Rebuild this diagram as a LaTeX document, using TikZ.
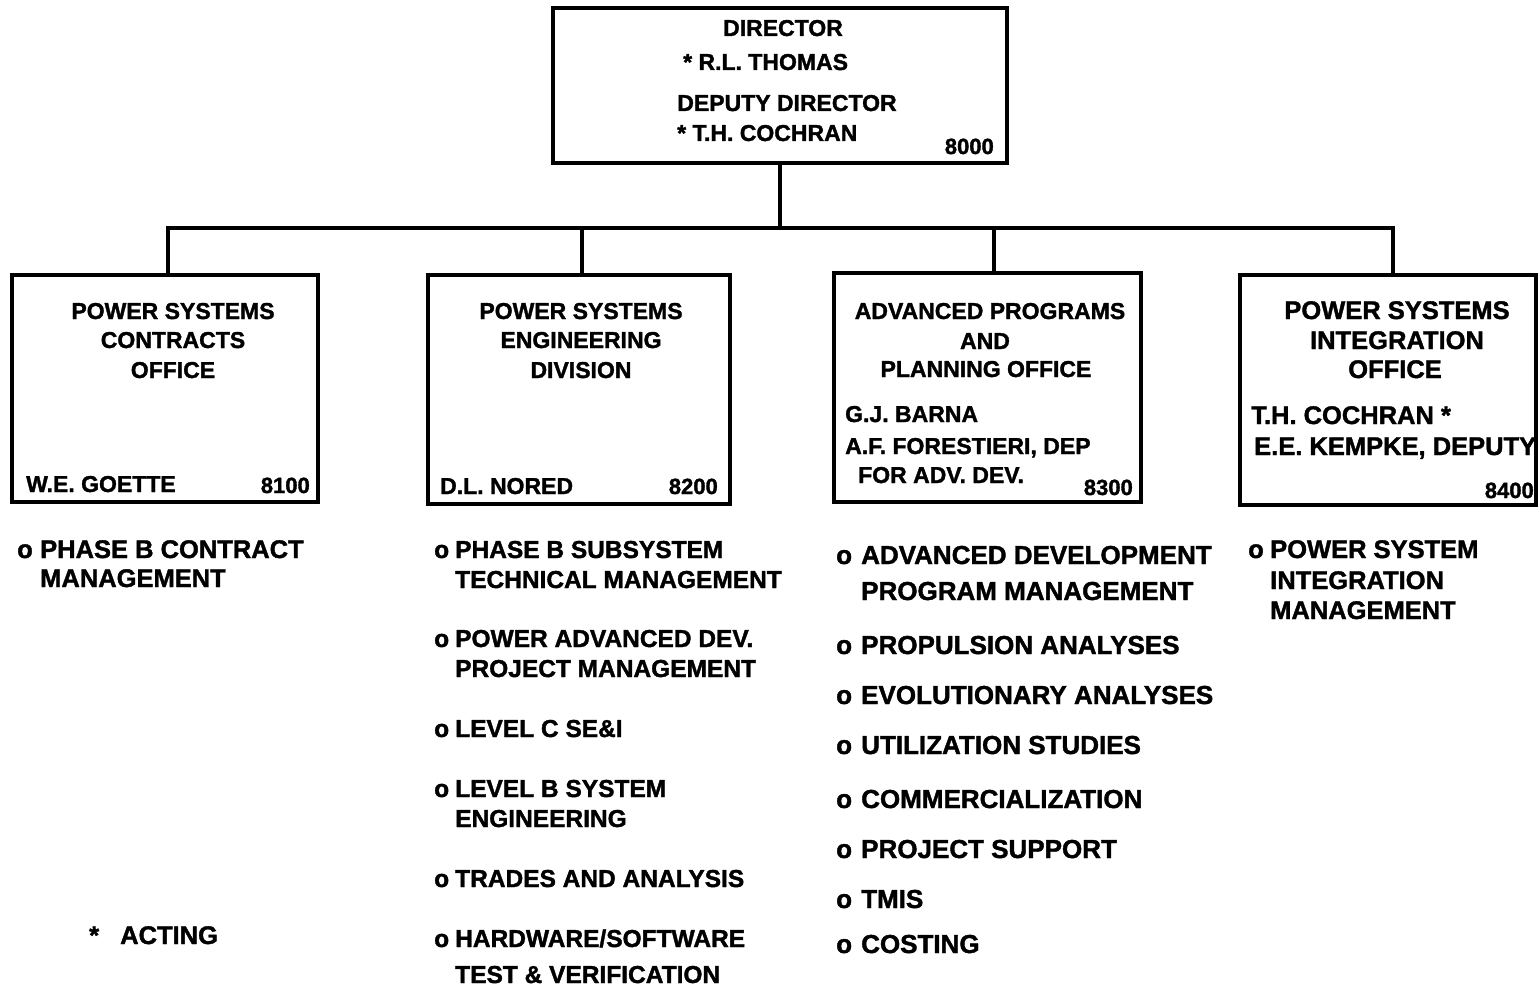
\documentclass[tikz,border=0pt]{standalone}
\usepackage{fontspec}
\setmainfont{Liberation Sans}[BoldFeatures={FakeBold=1.5}]
\newcommand\fsz[1]{\fontsize{#1}{#1}\selectfont\bfseries}
\begin{document}
\begin{tikzpicture}[x=1pt,y=-1pt,
  box/.style={draw=black, line width=4pt, inner sep=0pt, fill=white},
  lnk/.style={draw=black, line width=4pt},
  lt/.style={inner sep=0pt, anchor=base west},
  ct/.style={inner sep=0pt, anchor=base},
  rt/.style={inner sep=0pt, anchor=base east},
  fa/.style={font=\fsz{23}},
  fb/.style={font=\fsz{25.5}},
  fc/.style={font=\fsz{24.5}},
  fd/.style={font=\fsz{26}},
  fn/.style={font=\fsz{22}}]
\useasboundingbox (0,0) rectangle (1540,987);
\fill[white] (0,0) rectangle (1540,987);

% boxes
\node[box, minimum width=454pt, minimum height=155pt] (dir) at (780,85.5) {};
\node[box, minimum width=306pt, minimum height=227pt] (b1) at (165,388.5) {};
\node[box, minimum width=302pt, minimum height=229pt] (b2) at (579,389.5) {};
\node[box, minimum width=307pt, minimum height=229pt] (b3) at (987.5,387.5) {};
\node[box, minimum width=296pt, minimum height=230pt] (b4) at (1388,390) {};

% connectors
\coordinate (j1) at (168,228);
\coordinate (j2) at (582,228);
\coordinate (j3) at (994,228);
\coordinate (j4) at (1393,228);
\draw[lnk] (dir.south) -- (dir.south |- j1);
\draw[lnk, line cap=rect] (j1) -- (j4);
\draw[lnk] (j1) -- (j1 |- b1.north);
\draw[lnk] (j2) -- (j2 |- b2.north);
\draw[lnk] (j3) -- (j3 |- b3.north);
\draw[lnk] (j4) -- (j4 |- b4.north);

% director text
\node[ct, fa] (d1) at (783,36) {DIRECTOR};
\node[lt, fa] (d2) at (683,70) {* R.L. THOMAS};
\node[ct, fa] (d3) at (787,111) {DEPUTY DIRECTOR};
\node[lt, fa] (d4) at (677,141) {* T.H. COCHRAN};
\node[rt, fn] (d5) at (994,154) {8000};

% box 1
\node[ct, fa] (a1) at (173,319) {POWER SYSTEMS};
\node[ct, fa] (a2) at (173,348) {CONTRACTS};
\node[ct, fa] (a3) at (173,378) {OFFICE};
\node[lt, fa] (a4) at (26,492) {W.E. GOETTE};
\node[rt, fn] (a5) at (310,493) {8100};

% box 2
\node[ct, fa] (e1) at (581,319) {POWER SYSTEMS};
\node[ct, fa] (e2) at (581,348) {ENGINEERING};
\node[ct, fa] (e3) at (581,378) {DIVISION};
\node[lt, fa] (e4) at (440,494) {D.L. NORED};
\node[rt, fn] (e5) at (718,494) {8200};

% box 3
\node[ct, fa] (p1) at (990,319) {ADVANCED PROGRAMS};
\node[ct, fa] (p2) at (985,349) {AND};
\node[ct, fa] (p3) at (986,377) {PLANNING OFFICE};
\node[lt, fa] (p4) at (845,422) {G.J. BARNA};
\node[lt, fa] (p5) at (845,454) {A.F. FORESTIERI, DEP};
\node[lt, fa] (p6) at (858,483) {FOR ADV. DEV.};
\node[rt, fn] (p7) at (1133,495) {8300};

% box 4
\node[ct, fb] (i1) at (1397,319) {POWER SYSTEMS};
\node[ct, fb] (i2) at (1397,349) {INTEGRATION};
\node[ct, fb] (i3) at (1395,378) {OFFICE};
\node[lt, fb] (i4) at (1251,424) {T.H. COCHRAN *};
\node[lt, fb] (i5) at (1254,455) {E.E. KEMPKE, DEPUTY};
\node[rt, fn] (i6) at (1534,498) {8400};

% column 1 list
\node[lt, fb] (c1o1) at (17,558) {o};
\node[lt, fb] (c1a) at (40,558) {PHASE B CONTRACT};
\node[lt, fb] (c1b) at (40,587) {MANAGEMENT};
\node[lt, fb] (ast) at (89,944) {*};
\node[lt, fb] (act) at (120,944) {ACTING};

% column 2 list
\node[lt, fc] (c2o1) at (434,558) {o};
\node[lt, fc] (c2a) at (455,558) {PHASE B SUBSYSTEM};
\node[lt, fc] (c2b) at (455,588) {TECHNICAL MANAGEMENT};
\node[lt, fc] (c2o2) at (434,647) {o};
\node[lt, fc] (c2c) at (455,647) {POWER ADVANCED DEV.};
\node[lt, fc] (c2d) at (455,677) {PROJECT MANAGEMENT};
\node[lt, fc] (c2o3) at (434,737) {o};
\node[lt, fc] (c2e) at (455,737) {LEVEL C SE\&I};
\node[lt, fc] (c2o4) at (434,797) {o};
\node[lt, fc] (c2f) at (455,797) {LEVEL B SYSTEM};
\node[lt, fc] (c2g) at (455,827) {ENGINEERING};
\node[lt, fc] (c2o5) at (434,887) {o};
\node[lt, fc] (c2h) at (455,887) {TRADES AND ANALYSIS};
\node[lt, fc] (c2o6) at (434,947) {o};
\node[lt, fc] (c2i) at (455,947) {HARDWARE/SOFTWARE};
\node[lt, fc] (c2j) at (455,983) {TEST \& VERIFICATION};

% column 3 list
\node[lt, fd] (c3o1) at (836,564) {o};
\node[lt, fd] (c3a) at (861,564) {ADVANCED DEVELOPMENT};
\node[lt, fd] (c3b) at (861,600) {PROGRAM MANAGEMENT};
\node[lt, fd] (c3o2) at (836,654) {o};
\node[lt, fd] (c3c) at (861,654) {PROPULSION ANALYSES};
\node[lt, fd] (c3o3) at (836,704) {o};
\node[lt, fd] (c3d) at (861,704) {EVOLUTIONARY ANALYSES};
\node[lt, fd] (c3o4) at (836,754) {o};
\node[lt, fd] (c3e) at (861,754) {UTILIZATION STUDIES};
\node[lt, fd] (c3o5) at (836,808) {o};
\node[lt, fd] (c3f) at (861,808) {COMMERCIALIZATION};
\node[lt, fd] (c3o6) at (836,858) {o};
\node[lt, fd] (c3g) at (861,858) {PROJECT SUPPORT};
\node[lt, fd] (c3o7) at (836,908) {o};
\node[lt, fd] (c3h) at (861,908) {TMIS};
\node[lt, fd] (c3o8) at (836,953) {o};
\node[lt, fd] (c3i) at (861,953) {COSTING};

% column 4 list
\node[lt, fb] (c4o1) at (1248,558) {o};
\node[lt, fb] (c4a) at (1270,558) {POWER SYSTEM};
\node[lt, fb] (c4b) at (1270,589) {INTEGRATION};
\node[lt, fb] (c4c) at (1270,619) {MANAGEMENT};
\end{tikzpicture}
\end{document}
